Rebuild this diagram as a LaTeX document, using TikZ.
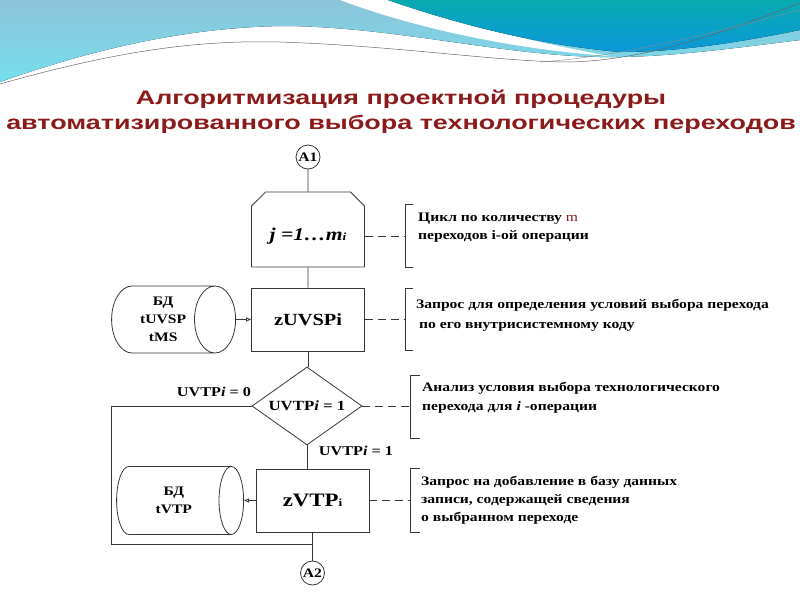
\documentclass[tikz,border=0pt]{standalone}
\usepackage{fontspec}
\setmainfont{Liberation Serif}[FakeStretch=1.2]
\newfontfamily\titlefont{Liberation Sans}[FakeStretch=1.38]
\newfontfamily\notefont{Liberation Serif}[FakeStretch=1.2]
\usetikzlibrary{shapes.geometric,shapes.misc,arrows.meta}
\definecolor{titlered}{RGB}{139,26,26}
\definecolor{tealtop}{RGB}{8,170,176}
\definecolor{tealbot}{RGB}{12,152,218}
\definecolor{skytop}{RGB}{142,196,218}
\definecolor{skybot}{RGB}{116,222,236}
\definecolor{inkline}{RGB}{55,55,55}

\tikzset{
  flow/.style={draw=inkline, line width=0.8pt},
  dashlink/.style={flow, dash pattern=on 8pt off 5pt},
  procbox/.style={flow, rectangle, fill=white, minimum width=113pt, minimum height=63pt,
    inner sep=0pt, font=\bfseries\fontsize{17}{20}\selectfont},
  loopbox/.style={flow, chamfered rectangle, chamfered rectangle corners={north west,north east},
    chamfered rectangle xsep=17pt, chamfered rectangle angle=45, fill=white,
    minimum width=113pt, minimum height=75pt, inner sep=0pt, text height=22pt, text depth=0pt,
    font=\bfseries\itshape\fontsize{18}{20}\selectfont},
  decision/.style={flow, diamond, aspect=1.4, fill=white, minimum width=110pt, minimum height=78pt,
    inner sep=0pt, font=\bfseries\fontsize{14}{16}\selectfont},
  dbase/.style={flow, cylinder, aspect=0.92, fill=white, inner sep=0pt, align=center,
    anchor=east, font=\bfseries\fontsize{13}{18}\selectfont},
  conn/.style={flow, circle, fill=white, minimum size=24pt, inner sep=0pt,
    font=\bfseries\fontsize{13}{13}\selectfont},
  condlabel/.style={inner sep=0pt, font=\bfseries\fontsize{13.5}{16}\selectfont},
  note/.style={anchor=west, align=left, inner sep=0pt, font=\notefont\bfseries\fontsize{13}{18}\selectfont},
  datalink/.style={flow, -{Triangle[open, length=5pt, width=4pt]}}
}

\begin{document}
\begin{tikzpicture}[x=1pt, y=-1pt]
  \useasboundingbox (0,0) rectangle (800,600);

  % header band
  \fill[top color=skytop, bottom color=skybot] (0,0) -- (800,0) -- (800,40)
    .. controls (720,50) and (660,58) .. (600,57)
    .. controls (500,55) and (400,28) .. (290,26)
    .. controls (190,26) and (90,50) .. (0,82) -- cycle;
  \fill[white] (340,0) .. controls (420,30) and (520,50) .. (610,56)
    .. controls (520,40) and (440,18) .. (395,0) -- cycle;
  \fill[top color=tealtop, bottom color=tealbot] (388,0) -- (800,0) -- (800,30)
    .. controls (740,42) and (680,52) .. (620,52)
    .. controls (540,45) and (460,25) .. (388,0) -- cycle;
  \draw[black!60, line width=0.5pt] (0,84) .. controls (120,50) and (200,40) .. (280,42)
    .. controls (400,46) and (500,62) .. (570,62)
    .. controls (650,60) and (730,30) .. (800,3);
  \draw[black!45, line width=0.4pt] (540,62) .. controls (640,55) and (740,25) .. (800,10);

  % title
  \node[align=center, text=titlered, inner sep=0pt,
        font=\titlefont\bfseries\fontsize{19.5}{25}\selectfont] (title) at (401,112)
    {Алгоритмизация проектной процедуры\\автоматизированного выбора технологических переходов};

  % main column
  \node[conn] (a1) at (308,157) {A1};
  \node[loopbox] (loop) at (308,229.5) {j =1…m{\fontsize{11}{11}\selectfont i}};
  \node[procbox] (uvsp) at (308,319.5) {zUVSPi};
  \node[decision] (cond) at (307,406) {UVTP\textit{i} = 1};
  \node[procbox, font=\bfseries\fontsize{19}{20}\selectfont] (vtp) at (312.5,500.5)
    {zVTP{\fontsize{11}{11}\selectfont i}};
  \node[conn] (a2) at (312.5,573) {A2};

  % databases
  \node[dbase, minimum width=67pt, minimum height=124pt] (db1) at (236,319.5) {БД\\tUVSP\\tMS};
  \node[dbase, minimum width=68pt, minimum height=127pt] (db2) at (244,500.5) {БД\\tVTP};

  % condition labels
  \node[condlabel] (no) at (214,392) {UVTP\textit{i} = 0};
  \node[condlabel] (yes) at (356,451) {UVTP\textit{i} = 1};

  % connectors
  \draw[flow] (a1) -- (loop);
  \draw[flow] (loop) -- (uvsp);
  \draw[flow] (uvsp.south) -- (uvsp.south |- cond.north);
  \draw[flow] (cond.south) -- (cond.south |- vtp.north);
  \draw[flow] (vtp) -- (a2);
  \coordinate (corner) at (111,544);
  \coordinate (join) at (312.5,544);
  \draw[flow] (cond.west) -| (corner) -- (join);
  \draw[datalink] (db1.east) -- (uvsp.west);
  \draw[datalink] (vtp.west) -- (db2.east);

  % comment brackets
  \coordinate (br1) at (405,236);
  \coordinate (br2) at (405,319.5);
  \coordinate (br3) at (410,406);
  \coordinate (br4) at (410,500.5);
  \draw[dashlink] (loop.east |- br1) -- (br1);
  \draw[dashlink] (uvsp.east) -- (br2);
  \draw[dashlink] (cond.east) -- (br3);
  \draw[dashlink] (vtp.east) -- (br4);
  \draw[flow] (413,204) -| (405,267) -- (413,267);
  \draw[flow] (413,288) -| (405,350) -- (413,350);
  \draw[flow] (420,375) -| (410,438) -- (420,438);
  \draw[flow] (420,468) -| (410,532) -- (420,532);

  % comments
  \node[note] (n1) at (418,228) {Цикл по количеству \textcolor{titlered}{\mdseries m}\\переходов i-ой операции};
  \node[note, font=\notefont\bfseries\fontsize{13}{20}\selectfont] (n2) at (416,315)
    {Запрос для определения условий выбора перехода\\\hspace*{3pt}по его внутрисистемному коду};
  \node[note, font=\notefont\bfseries\fontsize{13}{19}\selectfont] (n3) at (422,397.5)
    {Анализ условия выбора технологического\\перехода для \textit{i} -операции};
  \node[note] (n4) at (421,500.5)
    {Запрос на добавление в базу данных\\записи, содержащей сведения\\о выбранном переходе};
\end{tikzpicture}
\end{document}
